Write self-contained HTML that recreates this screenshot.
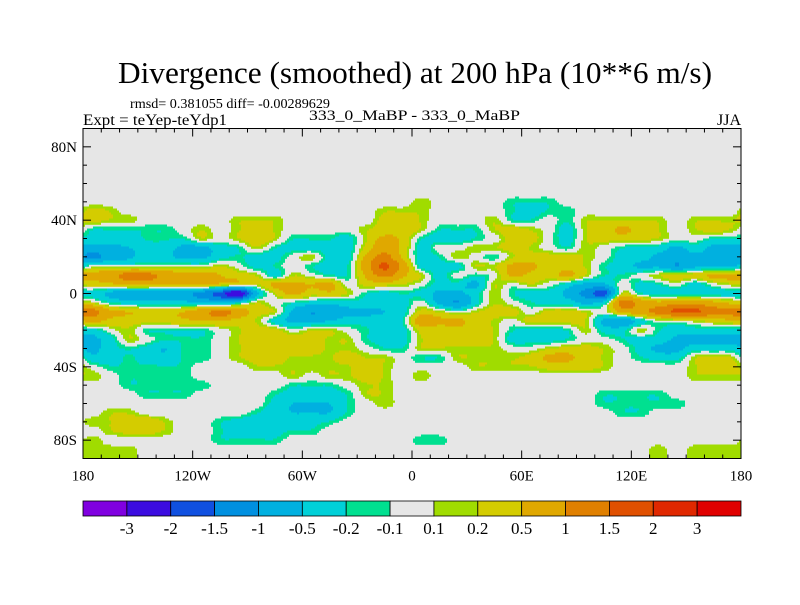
<!DOCTYPE html>
<html><head><meta charset="utf-8"><style>
html,body{margin:0;padding:0;background:#fff;}
svg text{font-family:"Liberation Serif",serif;fill:#000;}
</style></head><body>
<svg id="chart" width="800" height="600" xmlns="http://www.w3.org/2000/svg">
<text x="118" y="83" font-size="31" textLength="594" lengthAdjust="spacingAndGlyphs">Divergence (smoothed) at 200 hPa (10**6 m/s)</text>
<text x="130" y="108" font-size="14" textLength="200" lengthAdjust="spacingAndGlyphs">rmsd= 0.381055 diff= -0.00289629</text>
<text x="83" y="125" font-size="16" textLength="144" lengthAdjust="spacingAndGlyphs">Expt = teYep-teYdp1</text>
<text x="309" y="120" font-size="15" textLength="211" lengthAdjust="spacingAndGlyphs">333_0_MaBP - 333_0_MaBP</text>
<text x="741" y="125" font-size="16" text-anchor="end">JJA</text>
<rect x="83" y="128.5" width="658" height="330" fill="#e6e6e6"/>
<g id="field"></g>
<g id="axes"></g>
<g id="cbar"></g>
</svg>
<script>
const lons = [-175,-165,-155,-145,-135,-125,-115,-105,-95,-85,-75,-65,-55,-45,-35,-25,-15,-5,5,15,25,35,45,55,65,75,85,95,105,115,125,135,145,155,165,175];
const lats = [60,55,50,45,40,35,30,25,20,15,10,5,0,-5,-10,-15,-20,-25,-30,-35,-40,-45,-50,-55,-60,-65,-70,-75,-80,-85];
const row60 = [0,0,0,0,0,0,0,0,0,0,0,0,0,0,0,0,0,0,0,0,0,0,0,0,0,0,0,0,0,0,0,0,0,0,0,0];
const row55 = [0,0,0,0,0,0,0,0,0,0,0,0,0,0,0,0,0,0,0,0,0,0,0,0,0,0,0,0,0,0,0,0,0,0,0,0];
const row50 = [0,0,0,0,0,0,0,0,0,0,0,0,0,0,0,0,0,0,0.18,0,0,0,0,-0.18,-0.18,-0.18,0,0,0,0,0,0,0,0,0,0];
const row45 = [0.3,0.18,0,0,0,0,0,0,0,0,0,0,0,0,0,0,0.18,0.18,0.18,0,0,0,0,-0.18,-0.3,-0.18,-0.18,0,0,0,0,0,0,0,0,0];
const row40 = [0.3,0.18,0.18,0,0,0,0,0,0.18,0.2,0.18,0,0,0,0,0,0.3,0.4,0.18,0,0,0,0.18,-0.18,-0.18,0,-0.18,0.18,0.18,0.18,0.18,0.18,0,0.18,0.18,0.18];
const row35 = [-0.18,-0.18,-0.18,-0.18,-0.18,0,0.18,0,0.18,0.3,0.18,0,0,0,0,0.18,0.3,0.4,0.18,-0.18,-0.18,-0.18,0.18,0.3,0.18,0,-0.3,0.18,0.3,0.6,0.3,0.2,0,0.18,0.3,0.18];
const row30 = [-0.3,-0.3,-0.3,-0.18,-0.18,-0.18,0.18,0,0.2,0.4,0.18,-0.18,-0.18,-0.18,-0.3,0.18,0.6,0.4,-0.18,-0.3,-0.3,-0.18,0,0.3,0.3,0,-0.3,0.18,0.3,0.3,0.3,0.18,0,0,-0.18,-0.18];
const row25 = [-0.6,-0.6,-0.5,-0.3,-0.3,-0.6,-0.6,-0.3,-0.18,0.18,-0.18,-0.3,-0.3,-0.3,-0.3,0.3,0.8,0.4,-0.3,0,0,0.18,0.18,0.3,0.18,0,-0.18,0.18,0,-0.18,-0.3,-0.3,-0.6,-0.3,-0.6,-0.6];
const row20 = [-1.2,-0.7,-0.6,-0.3,-0.4,-0.6,-0.6,-0.3,-0.18,-0.3,-0.3,0,0.18,-0.3,-0.3,0.6,1.2,0.4,-0.3,-0.18,0.18,0,-0.18,0.18,0.3,0.3,0.3,0.18,0,-0.3,-0.3,-0.6,-0.6,-0.6,-0.6,-0.6];
const row15 = [0,0,0,0,0,0,0,0.18,0,-0.3,-0.18,0,-0.18,-0.3,-0.18,0.8,1.6,0.8,-0.3,-0.3,-0.3,0.2,0.18,0.6,0.6,0.3,0.3,0.18,-0.18,-0.3,-0.6,-0.6,-1.0,-0.6,-0.6,-0.6];
const row10 = [0.6,0.8,1.2,1.2,0.8,0.7,0.7,0.5,0.3,0.18,-0.3,0.18,0,-0.18,-0.18,0.6,1.2,0.6,0.18,-0.3,0,-0.18,0,0.6,0.4,0.3,0.6,0.18,-0.18,-0.18,0,0.18,0.3,0.3,0.6,0.6];
const row5 = [0.3,0.4,0.6,0.6,0.5,0.5,0.6,0.4,0.3,0.18,0.6,0.6,0.5,0.6,0,0.3,0.3,0.2,0,-0.3,-0.3,-0.6,0.18,0,0.18,0,-0.3,-0.6,-0.6,0,-0.3,-0.18,0,-0.3,0,0.18];
const row0 = [-0.3,-0.6,-0.8,-0.8,-0.8,-0.8,-1.2,-1.7,-2.5,-0.6,0.18,0.6,0.3,0.4,0.18,-0.18,-0.3,-0.18,-0.3,-0.6,-0.6,-0.3,0.18,-0.18,-0.3,-0.3,-0.6,-1.2,-1.7,0.18,-0.18,-0.3,-0.3,-0.3,-0.3,-0.3];
const rowS5 = [0.18,-0.18,-0.3,-0.4,-0.4,-0.4,-0.5,-0.6,-0.3,0.18,0,-0.18,-0.3,-0.4,-0.3,-0.3,-0.3,-0.3,0,-0.6,-1.0,-0.3,0.18,0,-0.18,-0.3,-0.3,-0.6,-0.3,1.2,0.8,0.6,0.8,0.8,0.6,0.4];
const rowS10 = [1.2,0.6,0.5,0.4,0.4,0.5,0.8,1.2,0.8,0.3,0.18,-0.6,-1.0,-0.8,-0.6,-0.6,-0.5,-0.3,0.3,0.18,0,0.18,0.3,0.3,0,0.3,0.3,0.18,0,0.6,0.8,1.2,1.6,1.6,1.2,1.2];
const rowS15 = [0.6,0.4,0.3,0.3,0.3,0.4,0.5,0.5,0.3,0.18,-0.3,-0.6,-0.6,-0.5,-0.3,-0.3,-0.3,-0.18,0.8,0.6,0.6,0.3,0.18,0,0.3,0.3,0.3,0.18,-0.6,-0.8,-0.3,0,0,0.18,0.3,0.4];
const rowS20 = [-0.3,0,0.18,-0.18,-0.18,-0.18,-0.18,0,0.18,0.3,0.3,0,0.18,0.18,0,-0.18,-0.3,-0.3,0.3,0.3,0.4,0.3,0.18,-0.18,-0.3,-0.3,-0.18,0.18,-0.3,-0.3,0.18,-0.18,-0.3,-0.3,-0.3,-0.3];
const rowS25 = [-0.6,-0.3,0.18,0,-0.18,-0.18,-0.18,0,0.2,0.3,0.4,0.3,0.3,0.18,0.18,-0.18,-0.3,-0.3,0.18,0.3,0.3,0.3,0.18,-0.3,-0.3,-0.3,-0.18,0,0,-0.18,-0.3,-0.3,-0.6,-0.6,-0.6,-0.6];
const rowS30 = [-0.6,-0.3,-0.18,-0.3,-0.5,-0.18,-0.18,0,0.18,0.3,0.4,0.4,0.3,0.18,0.18,0,-0.18,-0.18,0.18,0.18,0.18,0.18,0.18,0,0,0.18,0.3,0.3,0.18,0,-0.3,-0.6,-0.6,-0.3,-0.3,-0.3];
const rowS35 = [-0.4,-0.3,-0.18,-0.3,-0.4,-0.18,-0.18,0,0.18,0.3,0.3,0.18,0.18,0.18,0.3,0.2,0.18,0,-0.18,-0.18,0.18,0.18,0.18,0.18,0.3,0.6,0.6,0.3,0.18,0,-0.18,-0.3,-0.3,0.18,0.3,0.18];
const rowS40 = [0,-0.18,-0.18,-0.18,-0.18,-0.18,0,0,0,0.18,0.18,0.18,0.18,0.18,0.18,0.3,0.18,0,0,0,0,0.18,0.18,0.18,0.18,0.3,0.3,0.3,0.18,0,0,0,0,0.18,0.3,0.3];
const rowS45 = [0.18,0,-0.18,-0.18,-0.18,-0.18,0,0,0,0,0,0.18,0,0.18,0.18,0.3,0.18,0,0.18,0,0,0,0,0,0,0,0,0,0,0,0,0,0,0.18,0.18,0.18];
const rowS50 = [0,0,-0.18,-0.18,-0.18,-0.18,-0.18,0,0,0,0,-0.18,-0.18,-0.18,0,0.18,0.18,0,0,0,0,0,0,0,0,0,0,0,0,0,0,0,0,0,0,0];
const rowS55 = [0,0,0,-0.18,-0.18,-0.18,0,0,0,0,-0.18,-0.3,-0.3,-0.3,-0.18,0.18,0.18,0,0,0,0,0,0,0,0,0,0,0,-0.18,-0.18,-0.18,-0.18,0,0,0,0];
const rowS60 = [0,0,0,0,0,0,0,0,0,0,-0.3,-0.5,-0.5,-0.5,-0.18,0,0.18,0,0,0,0,0,0,0,0,0,0,0,-0.18,-0.18,-0.18,-0.18,-0.18,0,0,0];
const rowS65 = [0,0.18,0.18,0,0,0,0,0,0,-0.18,-0.4,-0.5,-0.5,-0.5,-0.18,0,0,0,0,0,0,0,0,0,0,0,0,0,0,-0.18,-0.18,0,0,0,0,0];
const rowS70 = [0.18,0.2,0.3,0.4,0.18,0,0,-0.18,-0.3,-0.4,-0.4,-0.4,-0.3,-0.18,0,0,0,0,0,0,0,0,0,0,0,0,0,0,0,0,0,0,0,0,0,0];
const rowS75 = [0,0.18,0.3,0.3,0.18,0,0,-0.18,-0.3,-0.3,-0.3,-0.18,-0.18,0,0,0,0,0,0,0,0,0,0,0,0,0,0,0,0,0,0,0,0,0,0,0];
const rowS80 = [0.18,0,0,0,0,0,0,-0.18,-0.18,-0.18,-0.18,0,0,0,0,0,0,0,-0.18,-0.18,0,0,0,0,0,0,0,0,0,0,0,0,0,0,0,0];
const rowS85 = [0.18,0.18,0.18,0,0,0,0,0,0,0,0,0,0,0,0,0,0,0,0,0,0,0,0,0,0,0,0,0,0,0,0,0.18,0,0.18,0.18,0.18];
const grid = [row60,row55,row50,row45,row40,row35,row30,row25,row20,row15,row10,row5,row0,rowS5,rowS10,rowS15,rowS20,rowS25,rowS30,rowS35,rowS40,rowS45,rowS50,rowS55,rowS60,rowS65,rowS70,rowS75,rowS80,rowS85];
const levels = [-3,-2,-1.5,-1,-0.5,-0.2,-0.1,0.1,0.2,0.5,1,1.5,2,3];
const levelLabels = ["-3","-2","-1.5","-1","-0.5","-0.2","-0.1","0.1","0.2","0.5","1","1.5","2","3"];
const palette = ["#8000e0","#3c0ce0","#1050e0","#0090e0","#00b0e0","#00d0d8","#00e090","#e6e6e6","#a0dc00","#d4cc00","#e0a800","#e08000","#e05000","#e02800","#e00000"];
const lonTicks = [-180,-120,-60,0,60,120,180];
const lonTickLabels = ["180","120W","60W","0","60E","120E","180"];
const latTicks = [80,40,0,-40,-80];
const latTickLabels = ["80N","40N","0","40S","80S"];

const NS="http://www.w3.org/2000/svg";
const X0=83,X1=741,Y0=128.5,Y1=458.5;
const xScale = lon => X0+(lon+180)/360*(X1-X0);
const yScale = lat => Y0+(90-lat)/180*(Y1-Y0);
const lonOf = x => (x-X0)/(X1-X0)*360-180;
const latOf = y => 90-(y-Y0)/(Y1-Y0)*180;
function colorIdx(v){let i=0;while(i<levels.length&&v>=levels[i])i++;return i;}
function cr(p0,p1,p2,p3,t){
  return 0.5*((2*p1)+(-p0+p2)*t+(2*p0-5*p1+4*p2-p3)*t*t+(-p0+3*p1-3*p2+p3)*t*t*t);
}
function gv(j,i){
  const n=lons.length; j=Math.max(0,Math.min(lats.length-1,j)); i=((i%n)+n)%n;
  return grid[j][i];
}
function sample(lon,lat){
  const fx=(lon-lons[0])/10; const i0=Math.floor(fx); const tx=fx-i0;
  let fy=(lats[0]-lat)/5; fy=Math.max(0,Math.min(lats.length-1.0001,fy));
  const j0=Math.floor(fy); const ty=fy-j0;
  const r=[];
  for(let dj=-1;dj<=2;dj++){
    r.push(cr(gv(j0+dj,i0-1),gv(j0+dj,i0),gv(j0+dj,i0+1),gv(j0+dj,i0+2),tx));
  }
  return cr(r[0],r[1],r[2],r[3],ty);
}
const field=document.getElementById('field');
const step=2;
for(let y=Y0;y<Y1;y+=step){
  let runStart=X0, runC=null;
  const lat=latOf(y+step/2);
  for(let x=X0;x<=X1;x+=step){
    const c = x<X1 ? colorIdx(sample(lonOf(x+step/2),lat)) : -1;
    if(c!==runC){
      if(runC!==null && runC!==7){
        const r=document.createElementNS(NS,'rect');
        
        
        r.setAttribute('x',runStart);r.setAttribute('y',y);
        r.setAttribute('width',Math.min(x,X1)-runStart);r.setAttribute('height',Math.min(step,Y1-y)+0.3);
        r.setAttribute('fill',palette[runC]);
        field.appendChild(r);
      }
      runStart=x;runC=c;
    }
  }
}
const axes=document.getElementById('axes');
function el(tag,attrs,parent){const e=document.createElementNS(NS,tag);for(const k in attrs)e.setAttribute(k,attrs[k]);parent.appendChild(e);return e;}
const frame=el('rect',{x:X0,y:Y0,width:X1-X0,height:Y1-Y0,fill:'none',stroke:'#000','stroke-width':1},axes);


for(let lon=-180;lon<=180;lon+=10){
  const x=xScale(lon), len=(lon%60===0)?8:4;
  const t1=el('line',{x1:x,x2:x,y1:Y1,y2:Y1-len,stroke:'#000','stroke-width':1},axes);
  
  
  const t2=el('line',{x1:x,x2:x,y1:Y0,y2:Y0+len,stroke:'#000','stroke-width':1},axes);
  
  
}
for(let lat=-90;lat<=90;lat+=10){
  const y=yScale(lat), len=(lat%40===0)?8:4;
  const t1=el('line',{x1:X0,x2:X0+len,y1:y,y2:y,stroke:'#000','stroke-width':1},axes);
  
  
  const t2=el('line',{x1:X1,x2:X1-len,y1:y,y2:y,stroke:'#000','stroke-width':1},axes);
  
  
}
lonTicks.forEach((lon,i)=>{
  const t=el('text',{x:xScale(lon),y:Y1+22,'font-size':15,'text-anchor':'middle'},axes);
  t.textContent=lonTickLabels[i];
  
  
});
latTicks.forEach((lat,i)=>{
  const t=el('text',{x:X0-6,y:yScale(lat)+5,'font-size':15,'text-anchor':'end'},axes);
  t.textContent=latTickLabels[i];
  
  
});
const cbar=document.getElementById('cbar');
const bw=(X1-X0)/palette.length;
palette.forEach((c,i)=>{
  const r=el('rect',{x:X0+i*bw,y:501,width:bw,height:15,fill:c,stroke:'#000','stroke-width':0.8},cbar);
  
  
});
levelLabels.forEach((s,i)=>{
  const t=el('text',{x:X0+(i+1)*bw,y:534,'font-size':17,'text-anchor':'middle'},cbar);
  t.textContent=s;
  
  
});
</script>
</body></html>
